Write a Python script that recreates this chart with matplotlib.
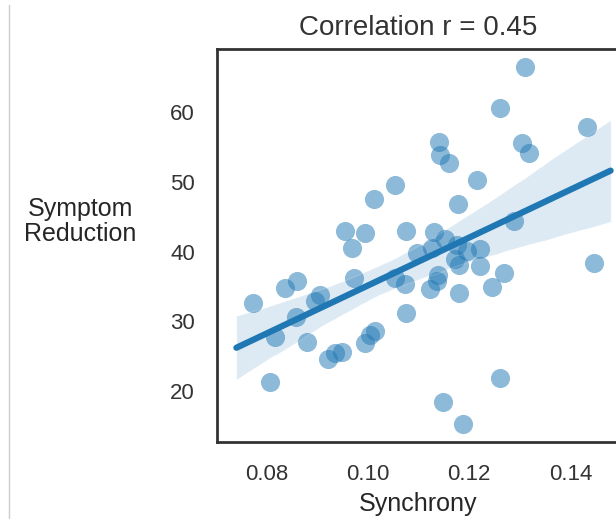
import numpy as np
import pandas as pd
import matplotlib
matplotlib.use("Agg")
import matplotlib.pyplot as plt
from matplotlib.lines import Line2D
import seaborn as sns

# Synchrony vs symptom reduction
synchrony = [0.1311, 0.1260, 0.1432, 0.1141, 0.1304, 0.1319, 0.1143, 0.1159,
             0.1053, 0.1215, 0.1011, 0.1177, 0.1288, 0.0954, 0.0994, 0.1075,
             0.1131, 0.0968, 0.1152, 0.1096, 0.1176, 0.1195, 0.1222, 0.1172,
             0.1179, 0.1222, 0.1268, 0.1245, 0.1179, 0.1446, 0.1126, 0.1053,
             0.1073, 0.0972, 0.1139, 0.1136, 0.1123, 0.1075, 0.0773, 0.0836,
             0.0860, 0.0905, 0.0895, 0.0857, 0.0816, 0.0880, 0.0921, 0.0948,
             0.0935, 0.0994, 0.1014, 0.1003, 0.0806, 0.1261, 0.1149, 0.1187]
reduction = [66.4, 60.5, 57.8, 55.7, 55.5, 54.1, 53.9, 52.7,
             49.6, 50.2, 47.6, 46.8, 44.4, 42.9, 42.7, 42.9,
             42.8, 40.5, 41.8, 39.8, 41.0, 40.1, 40.4, 39.0,
             38.1, 37.9, 37.0, 35.0, 34.1, 38.4, 40.5, 36.2,
             35.4, 36.2, 36.7, 35.8, 34.7, 31.2, 32.6, 34.8,
             35.8, 33.8, 32.9, 30.7, 27.8, 27.1, 24.6, 25.7,
             25.5, 26.9, 28.7, 28.1, 21.3, 21.9, 18.5, 15.3]
x_ticks = [0.08, 0.10, 0.12, 0.14]
y_ticks = [20, 30, 40, 50, 60]

df = pd.DataFrame({"Synchrony": synchrony, "Symptom Reduction": reduction})

sns.set_style("white")
plt.rcParams["font.family"] = ["Liberation Sans", "DejaVu Sans"]
plt.rcParams["text.color"] = "#333333"

fig = plt.figure(figsize=(6.16, 5.19), dpi=100)
ax = fig.add_axes([0.3523, 0.1483, 0.654, 0.7566])

sns.regplot(data=df, x="Synchrony", y="Symptom Reduction", ax=ax,
            color="#1f77b4", truncate=False, seed=0,
            scatter_kws={"s": 190, "alpha": 0.5, "linewidths": 0},
            line_kws={"lw": 4.5})

ax.set_xlim(0.0701, 0.1498)
ax.set_xticks(x_ticks)
ax.set_xticklabels([f"{t:.2f}" for t in x_ticks])
ax.set_yticks(y_ticks)
ax.tick_params(length=0, pad=16, labelsize=16, colors="#333333")

for side in ["left", "top", "bottom", "right"]:
    ax.spines[side].set_color("#333333")
    ax.spines[side].set_linewidth(2)

ax.set_title("Correlation r = 0.45", fontsize=20, pad=10)
ax.set_xlabel("Synchrony", fontsize=18, labelpad=5)
ax.set_ylabel("Symptom\nReduction", fontsize=18, rotation=0,
              ha="center", va="center", linespacing=1.05)
ax.yaxis.set_label_coords(-0.34, 0.562)

# thin border line on the left edge of the screenshot
fig.add_artist(Line2D([9 / 616, 9 / 616], [0.002, 0.99],
                      color="#cccccc", lw=1))

plt.savefig("out.png", dpi=100)
